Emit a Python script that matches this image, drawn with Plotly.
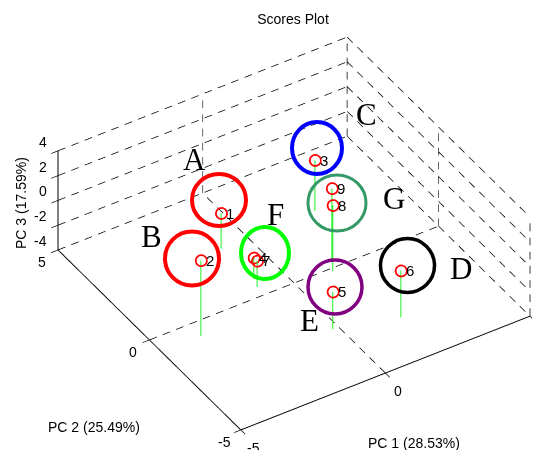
import math
import plotly.graph_objects as go

sample_ids = ["1", "2", "3", "4", "5", "6", "7", "8", "9"]
pc1 = [-0.94, -3.63, 2.33, -0.89, -0.2, 1.78, -1.01, 1.26, 1.54]
pc2 = [2.5, -0.65, 2.54, 0.79, -2.44, -3.03, 0.42, -0.13, 0.36]
pc3 = [-1.14, 2.1, 0.08, -2.3, -0.98, -0.24, -1.9, 1.3, 1.7]

x_ticks = [-5, 0, 5]
y_ticks = [-5, 0, 5]
z_ticks = [-4, -2, 0, 2, 4]
x_labels = ["-5", "0", "5"]
y_labels = ["-5", "0", "5"]
z_labels = ["-4", "-2", "0", "2", "4"]
x_range = [-5, 5]
y_range = [-5, 5]
z_range = [-4, 4]

group_labels = ["A", "B", "C", "D", "E", "F", "G"]
group_colors = ["#ff0000", "#ff0000", "#0000ff", "#000000", "#800080", "#00ff00", "#339966"]

W, H = 540, 450
PAGE = 8  # the browser's body margin offsets the figure inside the window
az = math.radians(-32.3)
el = math.radians(38.5)
eye_len = 1.6
eye = dict(
    x=eye_len * math.sin(az) * math.cos(el),
    y=-eye_len * math.cos(az) * math.cos(el),
    z=eye_len * math.sin(el),
)

fig = go.Figure()


def dashed(p0, p1, periods, color="black", width=1.5, duty=0.55):
    xs, ys, zs = [], [], []
    n = int(periods)
    for i in range(n + 1):
        for t in (i / periods, min((i + duty) / periods, 1.0)):
            t = min(t, 1.0)
            xs.append(p0[0] + (p1[0] - p0[0]) * t)
            ys.append(p0[1] + (p1[1] - p0[1]) * t)
            zs.append(p0[2] + (p1[2] - p0[2]) * t)
        xs.append(None); ys.append(None); zs.append(None)
    fig.add_trace(go.Scatter3d(x=xs, y=ys, z=zs, mode="lines",
                               line=dict(color=color, width=width),
                               hoverinfo="skip", showlegend=False))


for z in z_ticks:
    dashed((-5, 5, z), (5, 5, z), 21.7)
    dashed((5, 5, z), (5, -5, z), 18)
dashed((0, -5, -4), (0, 5, -4), 18)
dashed((-5, 0, -4), (5, 0, -4), 21.7)
dashed((0, 5, -4), (0, 5, 4), 7, "#666666", 2)
dashed((5, 0, -4), (5, 0, 4), 7, "#666666", 2)
dashed((5, 5, -4), (5, 5, 4), 7)
dashed((5, -5, -4), (5, -5, 4), 7)

for a, b, c in zip(pc1, pc2, pc3):
    fig.add_trace(go.Scatter3d(x=[a, a], y=[b, b], z=[z_range[0], c], mode="lines",
                               line=dict(color="#22ee22", width=2),
                               hoverinfo="skip", showlegend=False))

fig.add_trace(go.Scatter3d(
    x=pc1, y=pc2, z=pc3, mode="markers",
    marker=dict(size=7, symbol="circle-open", color="red", line=dict(color="red", width=1)),
    hoverinfo="skip", showlegend=False))

axis_common = dict(showgrid=False, zeroline=False, showbackground=False, showline=True,
                   linecolor="black", linewidth=2, ticks="outside", ticklen=8, tickwidth=1.5,
                   tickcolor="black", showspikes=False, title=dict(text=""),
                   showticklabels=False)

sans = dict(family="Liberation Sans", size=14, color="black")
point_font = dict(family="Liberation Sans", size=15, color="black")

annotations = [dict(x=a, y=b, z=c, text=t, showarrow=False, xanchor="left",
                    xshift=3, font=point_font)
               for a, b, c, t in zip(pc1, pc2, pc3, sample_ids)]
annotations += [dict(x=v, y=y_range[0], z=z_range[0], text=t, showarrow=False, xanchor="center",
                     yanchor="middle", xshift=13, yshift=-18, font=sans)
                for v, t in zip(x_ticks, x_labels)]
annotations += [dict(x=x_range[0], y=v, z=z_range[0], text=t, showarrow=False, xanchor="center",
                     yanchor="middle", xshift=-16, yshift=-12, font=sans)
                for v, t in zip(y_ticks, y_labels)]
annotations += [dict(x=x_range[0], y=y_range[1], z=v, text=t, showarrow=False, xanchor="right",
                     yanchor="middle", xshift=-9, yshift=9, font=sans)
                for v, t in zip(z_ticks, z_labels)]


def px_x(v):
    return (v - PAGE) / W


def px_y(v):
    return 1 - (v - PAGE) / H


circle_px = [(219, 200, 27, 26, 4), (192, 258.5, 27, 27, 4), (317, 148, 25, 26, 4),
             (407.5, 265.5, 27, 27, 3.5), (335, 287, 27, 27, 3.5), (265, 253, 24, 26, 4),
             (337, 203, 29, 28, 3)]
letter_px = [(195, 160), (151, 236), (366, 115), (461, 268), (309, 320), (275, 214), (394, 199)]

shapes = [dict(type="circle", xref="paper", yref="paper", layer="above",
               x0=px_x(cx - rx), x1=px_x(cx + rx), y0=px_y(cy + ry), y1=px_y(cy - ry),
               line=dict(color=col, width=w))
          for (cx, cy, rx, ry, w), col in zip(circle_px, group_colors)]

paper_notes = [dict(x=px_x(px), y=px_y(py), xref="paper", yref="paper", text=t, showarrow=False,
                    xanchor="center", yanchor="middle",
                    font=dict(family="Liberation Serif", size=31, color="black"))
               for (px, py), t in zip(letter_px, group_labels)]
paper_notes += [
    dict(x=px_x(414), y=px_y(443), xref="paper", yref="paper", text="PC 1 (28.53%)",
         showarrow=False, font=sans, xanchor="center", yanchor="middle"),
    dict(x=px_x(94), y=px_y(427), xref="paper", yref="paper", text="PC 2 (25.49%)",
         showarrow=False, font=sans, xanchor="center", yanchor="middle"),
    dict(x=px_x(21), y=px_y(203), xref="paper", yref="paper", text="PC 3 (17.59%)",
         showarrow=False, font=sans, textangle=-90, xanchor="center", yanchor="middle"),
]

fig.update_layout(
    width=W, height=H,
    margin=dict(l=0, r=0, t=0, b=0),
    paper_bgcolor="white",
    title=dict(text="Scores Plot", x=px_x(293), y=px_y(19), xanchor="center", yanchor="middle",
               font=sans),
    shapes=shapes,
    annotations=paper_notes,
    scene=dict(
        domain=dict(x=[0.0741, 0.9852], y=[0.0178, 0.98]),
        aspectmode="manual",
        aspectratio=dict(x=1.58, y=1.58, z=0.585),
        camera=dict(eye=eye, up=dict(x=0, y=0, z=1), center=dict(x=0, y=0, z=0),
                    projection=dict(type="orthographic")),
        xaxis=dict(range=x_range, tickvals=x_ticks, **axis_common),
        yaxis=dict(range=y_range, tickvals=y_ticks, **axis_common),
        zaxis=dict(range=z_range, tickvals=z_ticks, **axis_common),
        annotations=annotations,
    ),
)

fig.write_html("out.html")
